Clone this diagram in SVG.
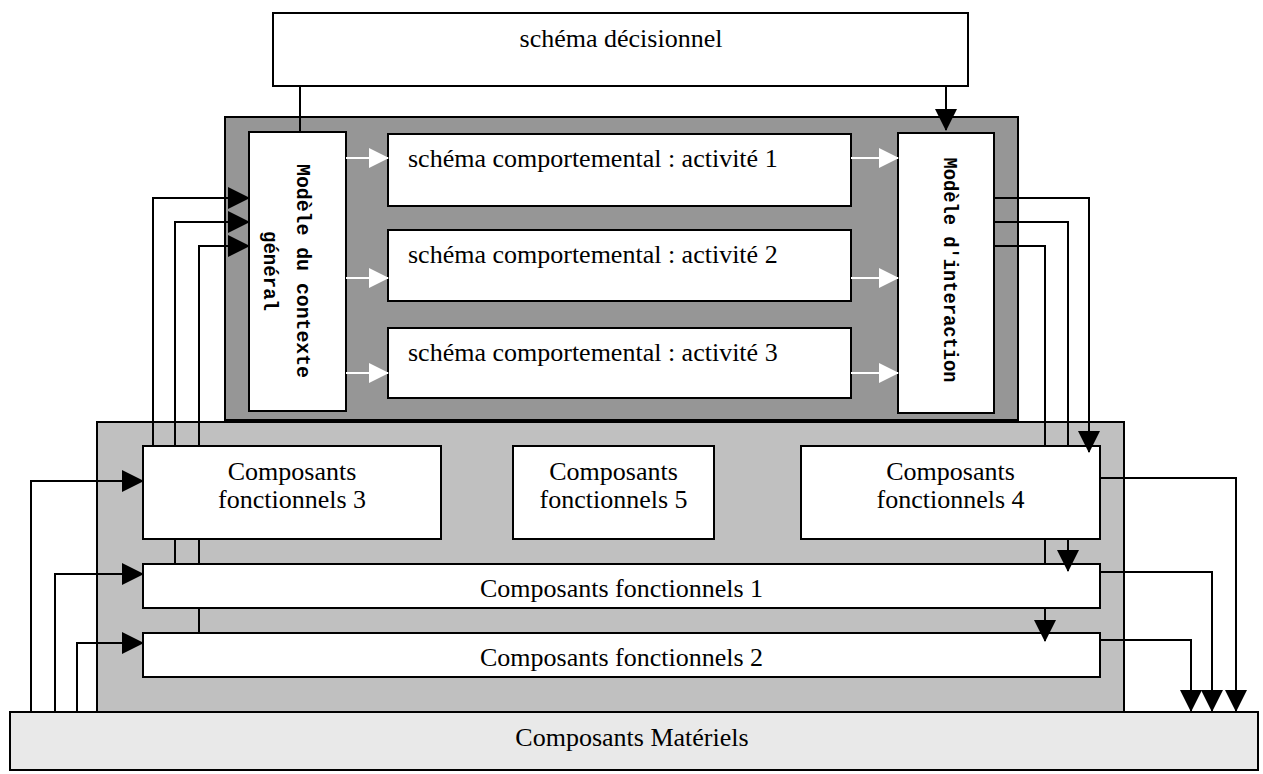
<svg xmlns="http://www.w3.org/2000/svg" width="1263" height="774" viewBox="0 0 1263 774">
<style>
.box{fill:#fff;stroke:#000;stroke-width:2}
.t{font-family:"Liberation Serif","Times New Roman",serif;font-size:26px;fill:#000}
.c{text-anchor:middle}
.v{font-family:"Liberation Mono","Courier New",monospace;font-size:20px;font-weight:bold;fill:#000;text-anchor:middle}
.ln{fill:none;stroke:#000;stroke-width:2}
.wl{fill:none;stroke:#fff;stroke-width:2}
</style>
<defs>
<marker id="ah" markerUnits="userSpaceOnUse" viewBox="0 0 22 22" refX="21" refY="11" markerWidth="22" markerHeight="22" orient="auto">
<path d="M0,0 L22,11 L0,22 Z" fill="#000"/>
</marker>
<marker id="wh" markerUnits="userSpaceOnUse" viewBox="0 0 20 20" refX="19" refY="10" markerWidth="20" markerHeight="20" orient="auto">
<path d="M0,0 L20,10 L0,20 Z" fill="#fff"/>
</marker>
</defs>

<g id="containers">
<rect id="dark-zone" x="225" y="117" width="793" height="303" fill="#969696" stroke="#000" stroke-width="2"/>
<rect id="light-zone" x="97" y="422" width="1027" height="290" fill="#c0c0c0" stroke="#000" stroke-width="2"/>
</g>

<g id="materiels">
<rect x="10" y="712" width="1248" height="58" fill="#e9e9e9" stroke="#000" stroke-width="2"/>
<text class="t c" x="632" y="746">Composants Matériels</text>
</g>

<g id="decisionnel">
<rect class="box" x="273" y="13" width="695" height="73"/>
<text class="t c" x="621" y="47">schéma décisionnel</text>
</g>

<g id="contexte">
<rect class="box" x="249" y="132" width="97" height="279"/>
<text class="v" transform="translate(297,271) rotate(90)" textLength="214" lengthAdjust="spacingAndGlyphs">Modèle du contexte</text>
<text class="v" transform="translate(264,271) rotate(90)" textLength="80" lengthAdjust="spacingAndGlyphs">général</text>
</g>

<g id="interaction">
<rect class="box" x="898" y="133" width="96" height="280"/>
<text class="v" transform="translate(944,270) rotate(90)" textLength="225" lengthAdjust="spacingAndGlyphs">Modèle d'interaction</text>
</g>

<g id="activite1">
<rect class="box" x="388" y="134" width="463" height="72"/>
<text class="t" x="408" y="167">schéma comportemental : activité 1</text>
</g>
<g id="activite2">
<rect class="box" x="388" y="230" width="463" height="71"/>
<text class="t" x="408" y="263">schéma comportemental : activité 2</text>
</g>
<g id="activite3">
<rect class="box" x="388" y="328" width="463" height="70"/>
<text class="t" x="408" y="361">schéma comportemental : activité 3</text>
</g>

<g id="cf3">
<rect class="box" x="143" y="446" width="298" height="93"/>
<text class="t c" x="292" y="480">Composants</text>
<text class="t c" x="292" y="508">fonctionnels 3</text>
</g>
<g id="cf5">
<rect class="box" x="513" y="446" width="201" height="93"/>
<text class="t c" x="613.5" y="480">Composants</text>
<text class="t c" x="613.5" y="508">fonctionnels 5</text>
</g>
<g id="cf4">
<rect class="box" x="801" y="446" width="299" height="93"/>
<text class="t c" x="950.5" y="480">Composants</text>
<text class="t c" x="950.5" y="508">fonctionnels 4</text>
</g>
<g id="cf1">
<rect class="box" x="143" y="564" width="957" height="44"/>
<text class="t c" x="621.5" y="597">Composants fonctionnels 1</text>
</g>
<g id="cf2">
<rect class="box" x="143" y="633" width="957" height="44"/>
<text class="t c" x="621.5" y="666">Composants fonctionnels 2</text>
</g>

<g id="connectors">
<path class="ln" d="M300,86 V132"/>
<path class="ln" d="M946,86 V130" marker-end="url(#ah)"/>
<path class="wl" d="M346,158 H388" marker-end="url(#wh)"/>
<path class="wl" d="M346,278 H388" marker-end="url(#wh)"/>
<path class="wl" d="M346,373 H388" marker-end="url(#wh)"/>
<path class="wl" d="M851,158 H898" marker-end="url(#wh)"/>
<path class="wl" d="M851,278 H898" marker-end="url(#wh)"/>
<path class="wl" d="M851,373 H898" marker-end="url(#wh)"/>
<path class="ln" d="M153,446 V198 H249" marker-end="url(#ah)"/>
<path class="ln" d="M175,564 V539 M175,446 V222 H249" marker-end="url(#ah)"/>
<path class="ln" d="M199,633 V608 M199,564 V539 M199,446 V246 H249" marker-end="url(#ah)"/>
<path class="ln" d="M994,198 H1089 V452" marker-end="url(#ah)"/>
<path class="ln" d="M994,222 H1068 V446 M1068,539 V571" marker-end="url(#ah)"/>
<path class="ln" d="M994,246 H1045 V446 M1045,539 V564 M1045,608 V641" marker-end="url(#ah)"/>
<path class="ln" d="M31,712 V481 H143" marker-end="url(#ah)"/>
<path class="ln" d="M55,712 V574 H143" marker-end="url(#ah)"/>
<path class="ln" d="M77,712 V643 H143" marker-end="url(#ah)"/>
<path class="ln" d="M1100,478 H1236 V711" marker-end="url(#ah)"/>
<path class="ln" d="M1100,572 H1212 V711" marker-end="url(#ah)"/>
<path class="ln" d="M1100,640 H1191 V711" marker-end="url(#ah)"/>
</g>
</svg>
